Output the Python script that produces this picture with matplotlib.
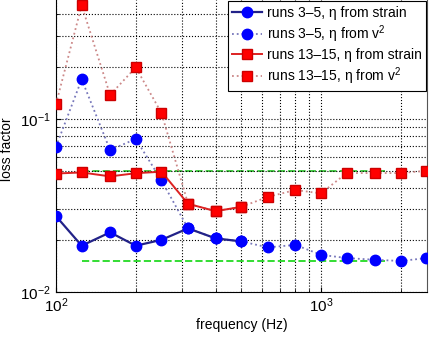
import numpy as np
import matplotlib.pyplot as plt

plt.rcParams['font.family'] = ['Liberation Sans', 'DejaVu Sans']
plt.rcParams['mathtext.fontset'] = 'custom'
plt.rcParams['mathtext.rm'] = 'Liberation Sans'
plt.rcParams['mathtext.it'] = 'Liberation Sans:italic'
plt.rcParams['mathtext.bf'] = 'Liberation Sans:bold'

# third-octave centre frequencies
freq = [100, 125, 160, 200, 250, 315, 400, 500, 630, 800, 1000, 1250, 1600, 2000, 2500]

# runs 3-5
blue_strain = [0.0274, 0.0185, 0.0221, 0.0185, 0.0200, 0.0233, 0.0204, 0.0196]
blue_v2 = [0.069, 0.169, 0.066, 0.0765, 0.0441, 0.0233, 0.0204, 0.0196,
           0.0181, 0.0187, 0.0164, 0.0157, 0.01535, 0.0151, 0.0157]

# runs 13-15
red_strain = [0.0483, 0.0490, 0.0465, 0.0485, 0.0495, 0.0323, 0.0293, 0.0310]
red_v2 = [0.1217, 0.452, 0.1374, 0.198, 0.108, 0.0323, 0.0293, 0.0310,
          0.0354, 0.0388, 0.0371, 0.0486, 0.0486, 0.0486, 0.0501]

# green reference levels
ref_f = [125, 1750]
ref_hi = [0.050, 0.050]
ref_lo = [0.015, 0.015]

fig = plt.figure(figsize=(4.3, 3.39), dpi=100)
ax = fig.add_axes([56/430, 47/339, 371/430, 292/339])

ax.plot(ref_f, ref_hi, '--', color='#44cc44', lw=1.4, zorder=1)
ax.plot(ref_f, ref_lo, '--', color='#33dd33', lw=1.4, zorder=1)

n = len(blue_strain)
ax.plot(freq[:n], blue_strain, '-o', color='#222288', mfc='blue', mec='blue',
        ms=7.5, lw=1.6, label='runs 3\u20135, \u03b7 from strain', zorder=4)
ax.plot(freq, blue_v2, ':o', color='#7777bb', mfc='blue', mec='blue',
        ms=7.5, lw=1.3, label='runs 3\u20135, \u03b7 from v$^2$', zorder=3)
ax.plot(freq[:n], red_strain, '-s', color='#dd2222', mfc='red', mec='#cc0000',
        ms=6.5, lw=1.4, label='runs 13\u201315, \u03b7 from strain', zorder=4)
ax.plot(freq, red_v2, ':s', color='#cc8888', mfc='red', mec='#cc0000',
        ms=6.5, lw=1.3, label='runs 13\u201315, \u03b7 from v$^2$', zorder=3)

ax.set_xscale('log')
ax.set_yscale('log')
ax.set_xlim(100, 2512)
ax.set_ylim(0.01, 0.485)
ax.grid(True, which='both', color='black', linestyle=':', lw=0.8)
ax.tick_params(which='both', direction='in', labelsize=11)
ax.spines['top'].set_visible(False)
ax.spines['right'].set_color('#555555')

ax.set_xlabel('frequency (Hz)', fontsize=10, labelpad=2)
ax.set_ylabel('loss factor', fontsize=10)
ax.yaxis.set_label_coords(-0.113, 0.49)

leg = ax.legend(loc='upper right', fontsize=10, frameon=True, fancybox=False,
                edgecolor='black', framealpha=1, borderaxespad=0.1,
                handlelength=2.2, handletextpad=0.3, labelspacing=0.25,
                borderpad=0.3)
leg.get_frame().set_linewidth(0.8)

fig.savefig('out.png', dpi=100)
